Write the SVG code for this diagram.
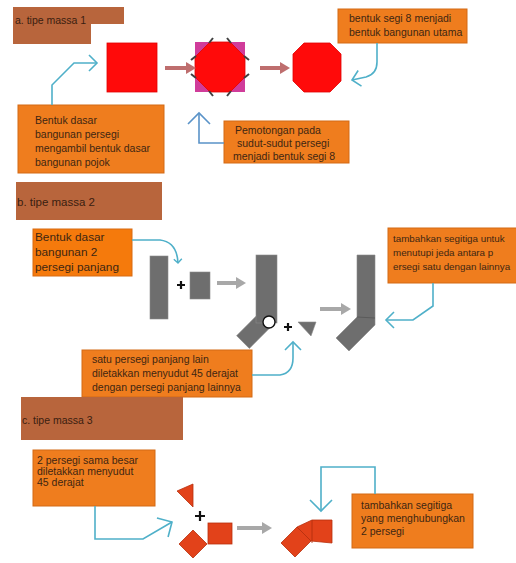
<svg xmlns="http://www.w3.org/2000/svg" width="516" height="563" viewBox="0 0 516 563">
<defs>
<style>
.hdr{fill:#B8653C}
.box{fill:#EF7D1E;stroke:#D36A14;stroke-width:1}
.box2{fill:#F57A0C;stroke:#D86A10;stroke-width:1}
.t{font-family:"Liberation Sans",Arial,sans-serif;font-size:10.5px;fill:#3e2612}
.tb{font-family:"Liberation Sans",Arial,sans-serif;font-size:11.8px;fill:#3e2612}
.ts{font-family:"Liberation Sans",Arial,sans-serif;font-size:9.8px;fill:#3e2612}
.th{font-family:"Liberation Sans",Arial,sans-serif;font-size:10.5px;fill:#3a2010}
.con{fill:none;stroke:#4FB0C9;stroke-width:1.6}
.con2{fill:none;stroke:#5A93C8;stroke-width:1.6}
.red{fill:#FF0A0A;stroke:#E00000;stroke-width:0.8}
.gray{fill:#6E6E6E;stroke:#8A8A8A;stroke-width:0.6}
.ored{fill:#E2421A;stroke:#B8300E;stroke-width:0.8}
.plus{stroke:#111;stroke-width:2.2}
.garrow{stroke:#A8A8A8;stroke-width:4;fill:none}
.rarrow{stroke:#BE6E6E;stroke-width:4;fill:none}
.tick{stroke:#404040;stroke-width:2}
</style>
<marker id="openL" markerUnits="userSpaceOnUse" markerWidth="20" markerHeight="20" refX="10" refY="10" orient="auto" viewBox="0 0 20 20">
<path d="M2,2 L10,10 L2,18" fill="none" stroke="#4FB0C9" stroke-width="1.6"/>
</marker>
<marker id="openLb" markerUnits="userSpaceOnUse" markerWidth="24" markerHeight="24" refX="12" refY="12" orient="auto" viewBox="0 0 24 24">
<path d="M1,1 L12,12 L1,23" fill="none" stroke="#5A93C8" stroke-width="1.6"/>
</marker>
<marker id="openLc" markerUnits="userSpaceOnUse" markerWidth="24" markerHeight="24" refX="12" refY="12" orient="auto" viewBox="0 0 24 24">
<path d="M1,1 L12,12 L1,23" fill="none" stroke="#4FB0C9" stroke-width="1.6"/>
</marker>
<marker id="openS" markerUnits="userSpaceOnUse" markerWidth="10" markerHeight="10" refX="6" refY="5" orient="auto" viewBox="0 0 10 10">
<path d="M2,1 L6,5 L2,9" fill="none" stroke="#4FB0C9" stroke-width="1.4"/>
</marker>
<marker id="headG" markerUnits="userSpaceOnUse" markerWidth="14" markerHeight="14" refX="2" refY="7" orient="auto" viewBox="0 0 14 14">
<path d="M2,1 L12,7 L2,13 Z" fill="#A8A8A8"/>
</marker>
<marker id="headR" markerUnits="userSpaceOnUse" markerWidth="14" markerHeight="14" refX="2" refY="7" orient="auto" viewBox="0 0 14 14">
<path d="M2,1 L12,7 L2,13 Z" fill="#BE6E6E"/>
</marker>
</defs>
<rect width="516" height="563" fill="#FFFFFF"/>

<!-- Section a -->
<g id="header-a">
<path class="hdr" d="M13,7 H124 V24 H91 V44 H13 Z"/>
<text class="th" x="15" y="24">a. tipe massa 1</text>
</g>
<g id="square-a">
<rect class="red" x="107" y="43" width="50" height="49"/>
</g>
<g id="octagon-cut">
<rect x="195" y="42" width="50" height="50" fill="#D03C9A"/>
<polygon class="red" points="210,42 230,42 245,57 245,77 230,92 210,92 195,77 195,57"/>
<line class="tick" x1="209" y1="43" x2="213" y2="38"/>
<line class="tick" x1="231" y1="43" x2="227" y2="38"/>
<line class="tick" x1="244" y1="56" x2="249" y2="60"/>
<line class="tick" x1="244" y1="78" x2="249" y2="74"/>
<line class="tick" x1="231" y1="91" x2="227" y2="96"/>
<line class="tick" x1="209" y1="91" x2="213" y2="96"/>
<line class="tick" x1="196" y1="78" x2="191" y2="74"/>
<line class="tick" x1="196" y1="56" x2="191" y2="60"/>
</g>
<g id="octagon-final">
<polygon class="red" points="304,43 330,43 341,54 341,81 330,92 304,92 293,81 293,54"/>
</g>
<g id="box-a-top">
<rect class="box" x="338" y="9" width="129" height="34"/>
<text class="t" x="349" y="22">bentuk segi 8 menjadi</text>
<text class="t" x="349" y="36">bentuk bangunan utama</text>
</g>
<g id="box-a-left">
<rect class="box" x="18" y="105" width="146" height="68"/>
<text class="t" x="35" y="124">Bentuk dasar</text>
<text class="t" x="35" y="138">bangunan persegi</text>
<text class="t" x="35" y="152">mengambil bentuk dasar</text>
<text class="t" x="35" y="166">bangunan pojok</text>
</g>
<g id="box-a-cut">
<rect class="box" x="224" y="121" width="125" height="42"/>
<text class="t" x="235" y="134">Pemotongan pada</text>
<text class="t" x="237" y="147">sudut-sudut persegi</text>
<text class="t" x="233" y="160">menjadi bentuk segi 8</text>
</g>

<!-- Section b -->
<g id="header-b">
<rect class="hdr" x="16" y="182" width="146" height="38"/>
<text class="th" x="17" y="206" style="font-size:11.5px">b. tipe massa 2</text>
</g>
<g id="box-b-left">
<rect class="box2" x="33" y="229" width="99" height="47"/>
<text class="tb" x="35" y="241">Bentuk dasar</text>
<text class="tb" x="35" y="256">bangunan 2</text>
<text class="tb" x="35" y="271">persegi panjang</text>
</g>
<g id="rect-tall-b">
<rect class="gray" x="150" y="256" width="18" height="63"/>
</g>
<g id="plus-b1">
<path class="plus" d="M177,285 H185 M181,281 V289"/>
</g>
<g id="rect-small-b">
<rect class="gray" x="190" y="272" width="20" height="27"/>
</g>
<g id="shape-b-mid">
<rect class="gray" x="-9" y="0" width="18" height="34" transform="translate(267,318) rotate(45)"/>
<rect class="gray" x="256" y="255" width="21" height="68"/>
<circle cx="269" cy="322" r="6" fill="#FFFFFF" stroke="#111" stroke-width="1.4"/>
</g>
<g id="plus-b2">
<path class="plus" d="M284,327 H292 M288,323 V331"/>
</g>
<g id="triangle-b">
<polygon class="gray" points="298,322 316,322 311,336"/>
</g>
<g id="shape-b-final">
<polygon class="gray" points="357,255 375,255 375,325 349,351 336,338 357,317"/>
<line x1="357" y1="317" x2="375" y2="318" stroke="#555" stroke-width="0.8"/>
</g>
<g id="box-b-right">
<rect class="box" x="388" y="228" width="130" height="55"/>
<text class="ts" x="393" y="242">tambahkan segitiga untuk</text>
<text class="ts" x="393" y="256">menutupi jeda antara p</text>
<text class="ts" x="393" y="270">ersegi satu dengan lainnya</text>
</g>
<g id="box-b-bottom">
<rect class="box" x="82" y="350" width="170" height="47"/>
<text class="t" x="92" y="363">satu persegi panjang lain</text>
<text class="t" x="92" y="377">diletakkan menyudut 45 derajat</text>
<text class="t" x="92" y="391">dengan persegi panjang lainnya</text>
</g>

<!-- Section c -->
<g id="header-c">
<rect class="hdr" x="21" y="397" width="162" height="43"/>
<text class="th" x="22" y="424">c. tipe massa 3</text>
</g>
<g id="box-c-left">
<rect class="box" x="33" y="450" width="122" height="56"/>
<text class="t" x="37" y="464">2 persegi sama besar</text>
<text class="t" x="37" y="475">diletakkan menyudut</text>
<text class="t" x="37" y="486">45 derajat</text>
</g>
<g id="triangle-c">
<polygon class="ored" points="177,491 193,484 193,507"/>
</g>
<g id="plus-c">
<path class="plus" d="M195,516 H205 M200,511 V521"/>
</g>
<g id="square-c">
<rect class="ored" x="208" y="523" width="24" height="21"/>
</g>
<g id="diamond-c">
<polygon class="ored" points="193,530 207,544 193,558 179,544"/>
</g>
<g id="shape-c-final">
<polygon class="ored" points="281,543 297,527 312,520 332,520 332,543 311,541 295,557"/>
<line x1="297" y1="527" x2="311" y2="541" stroke="#B02E0E" stroke-width="0.8"/>
<line x1="312" y1="520" x2="312" y2="543" stroke="#B02E0E" stroke-width="0.8"/>
</g>
<g id="box-c-right">
<rect class="box" x="352" y="494" width="121" height="54"/>
<text class="t" x="361" y="509">tambahkan segitiga</text>
<text class="t" x="361" y="522">yang menghubungkan</text>
<text class="t" x="361" y="535">2 persegi</text>
</g>

<g id="connectors">
<path class="rarrow" d="M165,68 H186" marker-end="url(#headR)"/>
<path class="rarrow" d="M260,68 H280" marker-end="url(#headR)"/>
<path class="garrow" d="M217,283 H236" marker-end="url(#headG)"/>
<path class="garrow" d="M320,309 H341" marker-end="url(#headG)"/>
<path class="garrow" d="M237,528 H262" marker-end="url(#headG)"/>
<path class="con" d="M52,105 V85 L74,63 H97" marker-end="url(#openL)"/>
<path class="con" d="M377,43 V62 Q377,74 366,77 L352,80" marker-end="url(#openL)"/>
<path class="con2" d="M224,143 H199 V113" marker-end="url(#openLb)"/>
<path class="con" d="M132,240 H160 Q177,242 178,263" marker-end="url(#openS)"/>
<path class="con" d="M433,283 V306 L413,320 H386" marker-end="url(#openL)"/>
<path class="con" d="M252,375 H280 Q293,373 293,358 V342" marker-end="url(#openL)"/>
<path class="con" d="M95,506 V539 H143 L172,522" marker-end="url(#openLc)"/>
<path class="con" d="M375,494 V467 H321 V511" marker-end="url(#openLc)"/>
</g>
</svg>
